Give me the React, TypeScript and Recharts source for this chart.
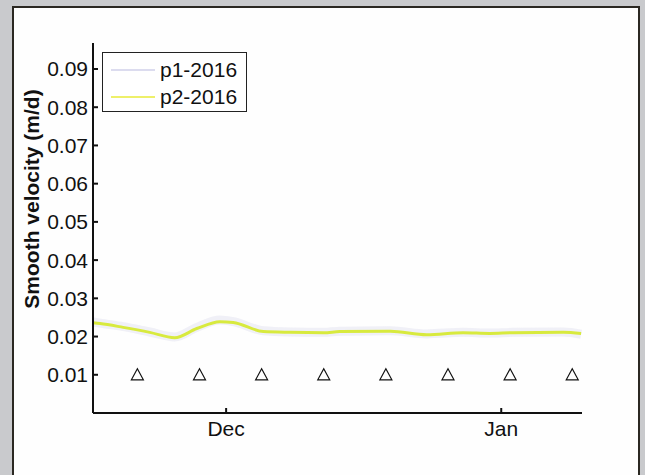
import React from 'react';
import { ComposedChart, Line, Scatter, XAxis, YAxis, Legend, Label } from 'recharts';

// days counted from Nov 16
const p2Days = [0, 0.8, 3.4, 6.4, 9.2, 11.7, 14.3, 15.8, 19.2, 22.2, 26, 27.8, 33.5, 37.6, 41.7, 44.7, 47.3, 53, 55];
const p2Vals = [0.0236, 0.0234, 0.0224, 0.0211, 0.0197, 0.0221, 0.0239, 0.0237, 0.0213, 0.0211, 0.021, 0.0213, 0.0214, 0.0205, 0.021, 0.0208, 0.021, 0.0211, 0.0208];
const p1Vals = [0.0238, 0.0235, 0.0226, 0.0212, 0.0199, 0.0224, 0.0243, 0.0239, 0.0215, 0.0212, 0.0211, 0.0214, 0.0215, 0.0207, 0.0211, 0.0209, 0.0211, 0.0212, 0.0206];

const markDays = [5, 12, 19, 26, 33, 40, 47, 54];
const markVal = 0.01;

const monthDays = [15, 46];
const monthLabels = ['Dec', 'Jan'];
const yTicks = [0.01, 0.02, 0.03, 0.04, 0.05, 0.06, 0.07, 0.08, 0.09];

const seriesNames = ['p1-2016', 'p2-2016'];
const seriesColors = ['#e6e6f2', '#d8ea3e'];
const legendSwatch = ['#dcdcef', '#eef06a'];

const lineData = p2Days.map((d, i) => ({ day: d, p1: p1Vals[i], p2: p2Vals[i] }));
const markData = markDays.map((d) => ({ day: d, v: markVal }));

const FONT = '"Liberation Sans", Arial, sans-serif';

function Triangle(props: any) {
  const { cx, cy } = props;
  return (
    <polygon
      points={`${cx},${cy - 6} ${cx - 6},${cy + 5} ${cx + 6},${cy + 5}`}
      fill="none"
      stroke="#111"
      strokeWidth={1.2}
    />
  );
}

function YLabel(props: any) {
  const { viewBox } = props;
  const x = viewBox.x + 18;
  const y = viewBox.y + viewBox.height / 2 - 29;
  return (
    <text
      x={x}
      y={y}
      transform={`rotate(-90, ${x}, ${y})`}
      textAnchor="middle"
      dominantBaseline="central"
      fontFamily={FONT}
      fontWeight="bold"
      fontSize={21}
      fill="#111"
    >
      Smooth velocity (m/d)
    </text>
  );
}

function LegendBox() {
  return (
    <div
      style={{
        width: 145,
        height: 60,
        border: '1px solid #222',
        background: '#fff',
        fontFamily: FONT,
        fontSize: 21,
        color: '#111',
        boxSizing: 'border-box',
        paddingTop: 3,
      }}
    >
      {seriesNames.map((n, i) => (
        <div key={n} style={{ display: 'flex', alignItems: 'center', height: 27 }}>
          <span
            style={{ display: 'inline-block', width: 44, height: 2, background: legendSwatch[i], marginLeft: 8, marginRight: 5 }}
          />
          <span>{n}</span>
        </div>
      ))}
    </div>
  );
}

export default function App() {
  return (
    <div style={{ position: 'absolute', left: 0, top: 0, width: 645, height: 475, background: '#c9cacd', overflow: 'hidden' }}>
      <div
        style={{
          position: 'absolute',
          left: 12,
          top: 6,
          width: 628,
          height: 480,
          background: '#fefefe',
          border: '2px solid #2b2822',
          boxSizing: 'border-box',
        }}
      />
      <div style={{ position: 'absolute', left: 0, top: 0 }}>
        <ComposedChart width={645} height={475} margin={{ top: 43, right: 63, bottom: 0, left: 13 }}>
          <XAxis
            type="number"
            dataKey="day"
            domain={[0, 55.1]}
            ticks={monthDays}
            tickFormatter={(d: number) => monthLabels[monthDays.indexOf(d)]}
            allowDataOverflow
            height={62}
            tickSize={-5}
            tickMargin={13}
            stroke="#111"
            strokeWidth={2}
            tick={{ fontFamily: FONT, fontSize: 21, fill: '#111' }}
          />
          <YAxis
            type="number"
            domain={[0, 0.0968]}
            ticks={yTicks}
            allowDataOverflow
            width={80}
            tickSize={-5}
            tickMargin={10}
            stroke="#111"
            strokeWidth={2}
            tick={{ fontFamily: FONT, fontSize: 21, fill: '#111' }}
          >
            <Label content={<YLabel />} />
          </YAxis>
          <Legend
            layout="vertical"
            align="center"
            verticalAlign="middle"
            wrapperStyle={{ left: 102, top: 52, width: 145 }}
            content={<LegendBox />}
          />
          <Line
            data={lineData}
            dataKey="p1"
            name={seriesNames[0]}
            type="monotone"
            stroke={seriesColors[0]}
            strokeWidth={9}
            strokeOpacity={0.6}
            dot={false}
            isAnimationActive={false}
          />
          <Line
            data={lineData}
            dataKey="p2"
            name={seriesNames[1]}
            type="monotone"
            stroke={seriesColors[1]}
            strokeWidth={3}
            dot={false}
            isAnimationActive={false}
          />
          <Scatter
            data={markData}
            dataKey="v"
            shape={<Triangle />}
            legendType="none"
            isAnimationActive={false}
          />
        </ComposedChart>
      </div>
    </div>
  );
}
